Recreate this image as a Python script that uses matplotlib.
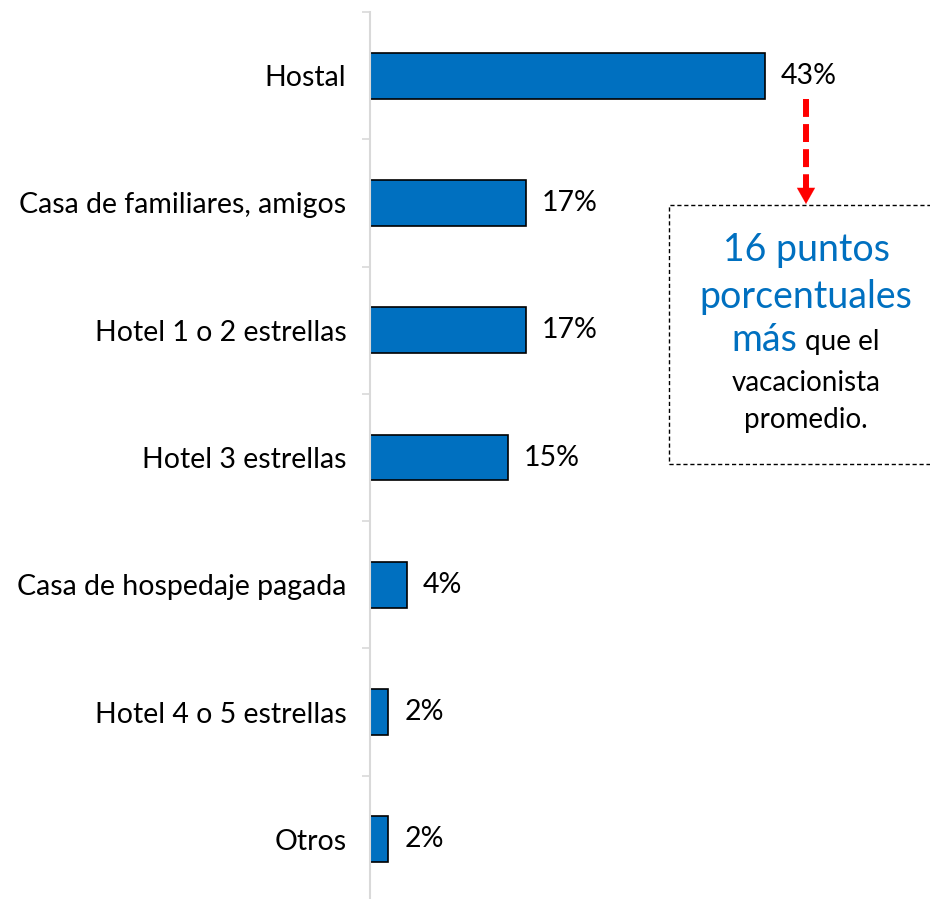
import numpy as np
import matplotlib.pyplot as plt
from matplotlib.patches import Rectangle

categorias = ["Hostal", "Casa de familiares, amigos", "Hotel 1 o 2 estrellas",
              "Hotel 3 estrellas", "Casa de hospedaje pagada",
              "Hotel 4 o 5 estrellas", "Otros"]
valores = [43, 17, 17, 15, 4, 2, 2]
etiquetas = [f"{v}%" for v in valores]

AZUL = "#0070C0"
W, H = 930, 899

plt.rcParams['font.family'] = ['Lato', 'DejaVu Sans']

fig = plt.figure(figsize=(W / 100, H / 100), dpi=100)
ax = fig.add_axes([370 / W, 1 - 903 / H, 560 / W, 891 / H])

y = np.arange(len(categorias))
ax.barh(y, valores, height=0.36, color=AZUL, edgecolor="black", linewidth=1.2)
ax.set_ylim(len(categorias) - 0.5, -0.5)
ax.set_xlim(0, 61)

for yi, v, lab in zip(y, valores, etiquetas):
    ax.annotate(lab, (v, yi), xytext=(11.5, 0), textcoords="offset points",
                va="center", ha="left", fontsize=20.5)

ax.set_yticks(y)
ax.set_yticklabels(categorias, fontsize=20.5)
ax.tick_params(axis="y", which="major", length=0, pad=17)
ax.set_yticks(np.arange(-0.5, len(categorias), 1), minor=True)
ax.tick_params(axis="y", which="minor", length=6, width=1.2, color="#d9d9d9")
ax.set_xticks([])
for s in ["top", "right", "bottom"]:
    ax.spines[s].set_visible(False)
ax.spines["left"].set_color("#d9d9d9")
ax.spines["left"].set_linewidth(1.5)


def fx(px):
    return px / W


def fy(py):
    return 1 - py / H


# recuadro punteado
caja = Rectangle((fx(669), fy(464)), fx(300), (464 - 205) / H,
                 transform=fig.transFigure, fill=False, edgecolor="black",
                 linestyle=(0, (3, 2)), linewidth=1.0, clip_on=False)
fig.patches.append(caja)

# flecha roja
fig.add_artist(plt.Line2D([fx(806), fx(806)], [fy(99), fy(189)],
                          transform=fig.transFigure, color="red", linewidth=4.3,
                          linestyle=(0, (3, 1.2)), solid_capstyle="butt"))
ax.annotate("", xy=(fx(806), fy(204)), xytext=(fx(806), fy(186)),
            xycoords=fig.transFigure, textcoords=fig.transFigure,
            arrowprops=dict(arrowstyle="-|>,head_width=0.65,head_length=1.15",
                            color="red", linewidth=0.1, shrinkA=0, shrinkB=0))

cx = fx(806)
fig.text(cx, fy(250), "16 puntos", color=AZUL, fontsize=27, ha="center", va="center")
fig.text(cx, fy(297), "porcentuales", color=AZUL, fontsize=27, ha="center", va="center")
fig.text(fx(797), fy(340), "más", color=AZUL, fontsize=27, ha="right", va="center")
fig.text(fx(805), fy(342), "que el", color="black", fontsize=20, ha="left", va="center")
fig.text(cx, fy(383), "vacacionista", color="black", fontsize=20, ha="center", va="center")
fig.text(cx, fy(420), "promedio.", color="black", fontsize=20, ha="center", va="center")

fig.savefig("out.png", dpi=100)
